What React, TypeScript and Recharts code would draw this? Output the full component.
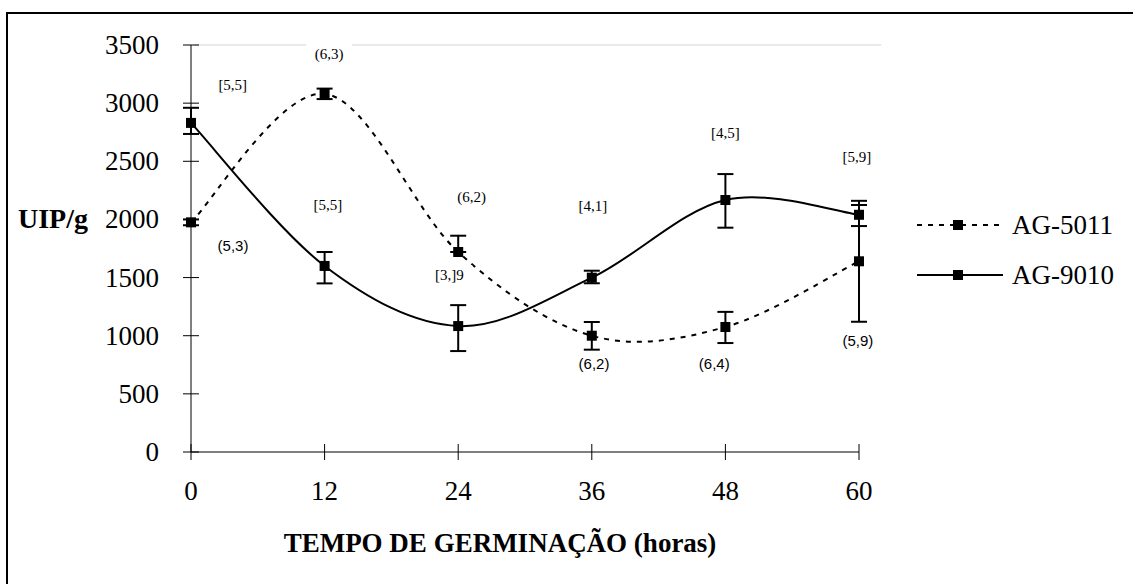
import React from 'react';
import {
  ComposedChart,
  Line,
  Scatter,
  XAxis,
  YAxis,
  ErrorBar,
  ReferenceLine,
  Legend,
} from 'recharts';

// germination time (hours)
const hours = [0, 12, 24, 36, 48, 60];

// UIP/g
const ag5011 = [1975, 3080, 1720, 1000, 1075, 1640];
const ag5011Low = [25, 45, 0, 120, 138, 520];
const ag5011High = [25, 45, 140, 118, 130, 520];

const ag9010 = [2830, 1600, 1083, 1499, 2167, 2040];
const ag9010Low = [95, 150, 215, 48, 238, 97];
const ag9010High = [130, 120, 180, 60, 223, 84];

const seriesNames = ['AG-5011', 'AG-9010'];

const yTicks = [0, 500, 1000, 1500, 2000, 2500, 3000, 3500];

// annotations written next to the points
const serifNoteText = ['[5,5]', '(6,3)', '[5,5]', '(6,2)', '[3,]9', '[4,1]', '[4,5]', '[5,9]'];
const serifNoteHour = [3.75, 12.4, 12.3, 25.2, 23.2, 36.1, 48, 59.8];
const serifNoteValue = [3156, 3423, 2124, 2193, 1522, 2115, 2743, 2537];

const sansNoteText = ['(5,3)', '(6,2)', '(6,4)', '(5,9)'];
const sansNoteHour = [3.77, 36.2, 47.0, 59.9];
const sansNoteValue = [1780, 765, 757, 963];

const serif = '"Liberation Serif", "Times New Roman", serif';
const sans = '"Liberation Sans", Arial, sans-serif';

const rows = hours.map((h, i) => ({
  hour: h,
  ag5011: ag5011[i],
  ag9010: ag9010[i],
  e5011: [ag5011Low[i], ag5011High[i]],
  e9010: [ag9010Low[i], ag9010High[i]],
}));

const serifNotes = serifNoteText.map((t, i) => ({ hour: serifNoteHour[i], value: serifNoteValue[i], text: t }));
const sansNotes = sansNoteText.map((t, i) => ({ hour: sansNoteHour[i], value: sansNoteValue[i], text: t }));

// Excel-like smoothing (Catmull-Rom through the points)
const smoothCurve: any = (context: any) => {
  let pts: number[][] = [];
  return {
    areaStart() {},
    areaEnd() {},
    lineStart() {
      pts = [];
    },
    point(x: number, y: number) {
      pts.push([+x, +y]);
    },
    lineEnd() {
      if (!pts.length) return;
      context.moveTo(pts[0][0], pts[0][1]);
      for (let i = 0; i < pts.length - 1; i++) {
        const p0 = pts[Math.max(i - 1, 0)];
        const p1 = pts[i];
        const p2 = pts[i + 1];
        const p3 = pts[Math.min(i + 2, pts.length - 1)];
        context.bezierCurveTo(
          p1[0] + (p2[0] - p0[0]) / 6,
          p1[1] + (p2[1] - p0[1]) / 6,
          p2[0] - (p3[0] - p1[0]) / 6,
          p2[1] - (p3[1] - p1[1]) / 6,
          p2[0],
          p2[1]
        );
      }
    },
  };
};

const SquareDot = (props: any) => {
  const { cx, cy, index } = props;
  if (cx == null || cy == null) return <g key={index} />;
  return <rect key={index} x={cx - 5} y={cy - 5} width={10} height={10} fill="#000" />;
};

const YTick = ({ x, y, payload }: any) => (
  <g>
    <line x1={x - 8} x2={x + 8} y1={y} y2={y} stroke="#000" />
    <text x={x - 32} y={y} textAnchor="end" dominantBaseline="central" fontFamily={serif} fontSize={27} fill="#000">
      {payload.value}
    </text>
  </g>
);

const XTick = ({ x, y, payload }: any) => (
  <g>
    <line x1={x} x2={x} y1={y - 8} y2={y + 8} stroke="#000" />
    <text x={x} y={y + 48} textAnchor="middle" fontFamily={serif} fontSize={27} fill="#000">
      {payload.value}
    </text>
  </g>
);

const noteShape = (family: string) => (props: any) => {
  const { cx, cy, payload } = props;
  const w = payload.text.length * 8 + 6;
  return (
    <g>
      <rect x={cx - w / 2} y={cy - 10} width={w} height={20} fill="#fff" />
      <text x={cx} y={cy} textAnchor="middle" dominantBaseline="central" fontFamily={family} fontSize={15} fill="#000">
        {payload.text}
      </text>
    </g>
  );
};

const LegendContent = ({ payload }: any) => (
  <div>
    {(payload || [])
      .filter((entry: any) => seriesNames.includes(entry.value))
      .map((entry: any) => (
        <div key={entry.value} style={{ display: 'flex', alignItems: 'center', height: 50 }}>
          <svg width={107} height={20} style={{ display: 'block', flex: 'none' }}>
            <line x1={12} x2={98} y1={10} y2={10} stroke="#000" strokeWidth={2} strokeDasharray={entry.payload?.strokeDasharray} />
            <rect x={48} y={5} width={10} height={10} fill="#000" />
          </svg>
          <span style={{ fontFamily: serif, fontSize: 27, lineHeight: '50px', color: '#000', whiteSpace: 'nowrap' }}>
            {entry.value}
          </span>
        </div>
      ))}
  </div>
);

export default function App() {
  return (
    <div style={{ position: 'absolute', left: 0, top: 0, width: 1133, height: 584, overflow: 'hidden', background: '#fff' }}>
      <div
        style={{
          position: 'absolute',
          left: 6,
          top: 12,
          width: 1200,
          height: 700,
          borderTop: '2px solid #000',
          borderLeft: '2px solid #000',
        }}
      />
      <div style={{ position: 'absolute', left: 0, top: 0 }}>
        <ComposedChart width={1133} height={584} data={rows} margin={{ top: 45, right: 59, bottom: 0, left: 0 }}>
          <XAxis
            dataKey="hour"
            type="number"
            domain={[0, 60]}
            ticks={hours}
            height={132}
            tickSize={0}
            tickMargin={0}
            tickLine={false}
            axisLine={{ stroke: '#000' }}
            tick={<XTick />}
            label={{
              value: 'TEMPO DE GERMINAÇÃO (horas)',
              position: 'insideBottom',
              offset: 32,
              dx: -25,
              style: { fontFamily: serif, fontSize: 27, fontWeight: 'bold', fill: '#000' },
            }}
          />
          <YAxis
            type="number"
            domain={[0, 3500]}
            ticks={yTicks}
            width={191}
            tickSize={0}
            tickMargin={0}
            tickLine={false}
            axisLine={{ stroke: '#000' }}
            tick={<YTick />}
            label={{
              value: 'UIP/g',
              position: 'insideLeft',
              offset: 18,
              dy: -30,
              style: { fontFamily: serif, fontSize: 28, fontWeight: 'bold', fill: '#000', textAnchor: 'start' },
            }}
          />
          <ReferenceLine
            segment={[{ x: 0.3, y: 3500 }, { x: 62, y: 3500 }]}
            ifOverflow="visible"
            stroke="#d4d4d4"
            strokeWidth={1}
          />
          <Legend
            layout="vertical"
            verticalAlign="top"
            align="right"
            content={<LegendContent />}
            wrapperStyle={{ left: 905, top: 200, width: 215 }}
          />
          <Line
            dataKey="ag5011"
            name={seriesNames[0]}
            type={smoothCurve}
            stroke="#000"
            strokeWidth={2}
            strokeDasharray="5 6"
            dot={<SquareDot />}
            activeDot={false}
            isAnimationActive={false}
          >
            <ErrorBar dataKey="e5011" direction="y" width={8} stroke="#000" strokeWidth={2} />
          </Line>
          <Line
            dataKey="ag9010"
            name={seriesNames[1]}
            type={smoothCurve}
            stroke="#000"
            strokeWidth={2}
            dot={<SquareDot />}
            activeDot={false}
            isAnimationActive={false}
          >
            <ErrorBar dataKey="e9010" direction="y" width={8} stroke="#000" strokeWidth={2} />
          </Line>
          <Scatter data={serifNotes} dataKey="value" legendType="none" shape={noteShape(serif)} isAnimationActive={false} />
          <Scatter data={sansNotes} dataKey="value" legendType="none" shape={noteShape(sans)} isAnimationActive={false} />
        </ComposedChart>
      </div>
    </div>
  );
}
